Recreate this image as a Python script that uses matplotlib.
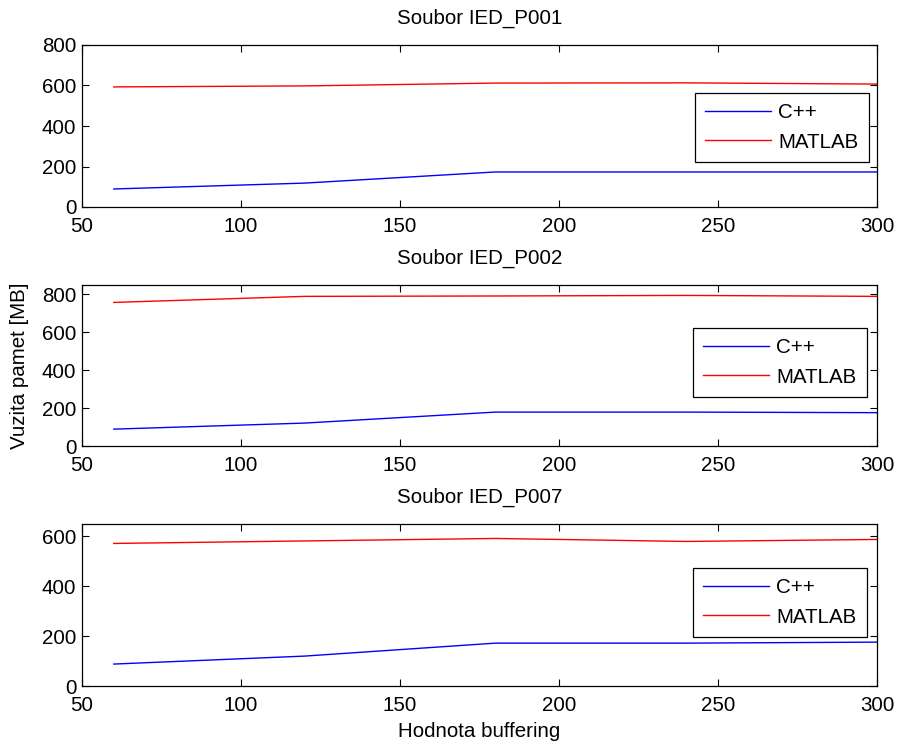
import matplotlib
matplotlib.use("Agg")
import matplotlib.pyplot as plt

plt.rcParams['font.family'] = ['Liberation Sans', 'DejaVu Sans']

buffering = [60, 120, 180, 240, 300]
titles = ["Soubor IED_P001", "Soubor IED_P002", "Soubor IED_P007"]
cpp_p001 = [89, 118, 173, 173, 173]
matlab_p001 = [593, 598, 612, 613, 607]
cpp_p002 = [89, 121, 179, 179, 176]
matlab_p002 = [758, 790, 792, 795, 790]
cpp_p007 = [88, 120, 172, 172, 176]
matlab_p007 = [572, 582, 592, 580, 588]
cpp_series = [cpp_p001, cpp_p002, cpp_p007]
matlab_series = [matlab_p001, matlab_p002, matlab_p007]
ylims = [(0, 800), (0, 850), (0, 650)]
yticks = [[0, 200, 400, 600, 800], [0, 200, 400, 600, 800], [0, 200, 400, 600]]
xticks = [50, 100, 150, 200, 250, 300]

FS = 14.8
W, H = 901, 745
fig = plt.figure(figsize=(W / 100, H / 100), dpi=100)
boxes = [(45, 207), (285, 446), (524, 686)]
left_px, right_px = 82, 877
legend_boxes = [(695, 93), (693, 328), (693, 568)]

for i in range(3):
    top, bot = boxes[i]
    ax = fig.add_axes([left_px / W, 1 - bot / H, (right_px - left_px) / W, (bot - top) / H])
    ax.plot(buffering, cpp_series[i], color='blue', lw=1.0, label='C++')
    ax.plot(buffering, matlab_series[i], color='red', lw=1.0, label='MATLAB')
    ax.set_xlim(50, 300)
    ax.set_ylim(*ylims[i])
    ax.set_xticks(xticks)
    ax.set_yticks(yticks[i])
    ax.tick_params(direction='in', top=True, right=True, length=5, width=0.8, labelsize=FS)
    ax.tick_params(axis='x', pad=7)
    ax.tick_params(axis='y', pad=4)
    for s in ax.spines.values():
        s.set_linewidth(0.9)
    ax.set_title(titles[i], fontsize=FS, pad=15)
    lx, ly = legend_boxes[i]
    leg = ax.legend(loc='upper left', bbox_to_anchor=((lx - left_px) / (right_px - left_px), (bot - ly) / (bot - top)),
                    fontsize=FS, frameon=True, fancybox=False, edgecolor='black', framealpha=1,
                    handlelength=3.2, borderpad=0.5, labelspacing=0.5, handletextpad=0.35, borderaxespad=0)
    leg.get_frame().set_linewidth(0.9)
    if i == 1:
        ax.set_ylabel("Vuzita pamet [MB]", fontsize=FS, labelpad=9)
    if i == 2:
        ax.set_xlabel("Hodnota buffering", fontsize=FS, labelpad=5)

fig.savefig("out.png", dpi=100)
